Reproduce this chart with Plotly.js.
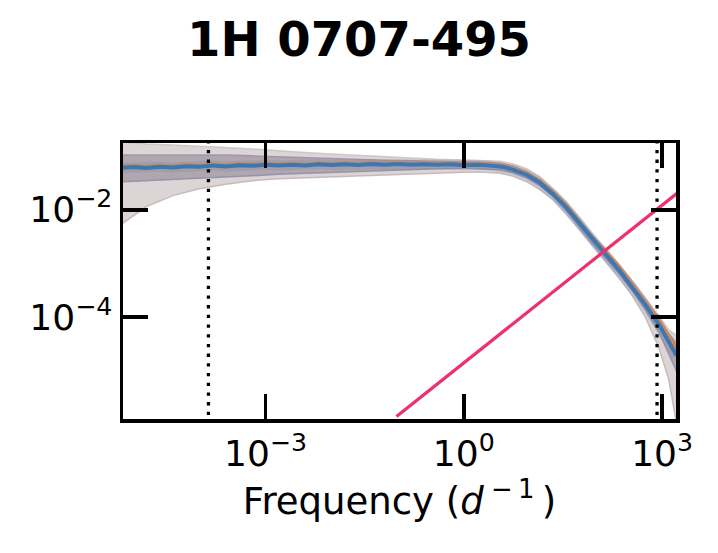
<!DOCTYPE html>
<html>
<head>
<meta charset="utf-8">
<script src="https://cdn.plot.ly/plotly-3.0.1.min.js"></script>
<style>html,body{margin:0;padding:0;background:#fff}#chart{width:718px;height:553px}</style>
</head>
<body>
<div id="chart"></div>
<script>
// log10 of frequency (d^-1) sample points for the bands
const logFreq = [-5.16,-4.8,-4.4,-4.0,-3.6,-3.2,-2.8,-2.4,-2.0,-1.6,-1.2,-0.8,-0.4,0,0.3,0.55,0.75,0.95,1.15,1.35,1.55,1.75,1.95,2.15,2.35,2.55,2.75,2.95,3.1,3.22];
// outer band (light), log10 power
const logOuterHi = [-0.735,-0.772,-0.791,-0.809,-0.837,-0.865,-0.902,-0.930,-0.957,-0.985,-1.013,-1.041,-1.059,-1.069,-1.078,-1.096,-1.143,-1.235,-1.383,-1.606,-1.846,-2.143,-2.457,-2.735,-3.013,-3.328,-3.643,-3.976,-4.235,-4.346];
const logOuterLo = [-2.254,-1.939,-1.735,-1.606,-1.522,-1.457,-1.420,-1.402,-1.383,-1.365,-1.346,-1.328,-1.309,-1.300,-1.300,-1.319,-1.374,-1.476,-1.624,-1.809,-2.068,-2.365,-2.680,-2.976,-3.272,-3.606,-4.013,-4.569,-5.161,-5.994];
// inner band (darker), log10 power
const logInnerHi = [-0.976,-0.976,-0.967,-0.967,-0.976,-0.994,-1.013,-1.031,-1.050,-1.069,-1.078,-1.087,-1.096,-1.106,-1.115,-1.133,-1.189,-1.291,-1.439,-1.643,-1.883,-2.189,-2.504,-2.781,-3.059,-3.374,-3.689,-4.022,-4.309,-4.494];
const logInnerLo = [-1.476,-1.457,-1.439,-1.411,-1.383,-1.365,-1.337,-1.319,-1.300,-1.281,-1.263,-1.244,-1.235,-1.226,-1.235,-1.254,-1.309,-1.402,-1.550,-1.754,-2.013,-2.319,-2.633,-2.911,-3.198,-3.513,-3.865,-4.272,-4.680,-5.013];
// log10 of frequency for the median lines
const lineLogFreq = [-5.16,-5.0,-4.8,-4.6,-4.4,-4.2,-4.0,-3.8,-3.6,-3.4,-3.2,-3.0,-2.8,-2.6,-2.4,-2.2,-2.0,-1.8,-1.6,-1.4,-1.2,-1.0,-0.8,-0.6,-0.4,-0.2,0.0,0.2,0.4,0.6,0.75,0.95,1.15,1.35,1.55,1.75,1.95,2.15,2.35,2.55,2.75,2.95,3.1,3.22];
// blue median, log10 power
const logBlue = [-1.217,-1.200,-1.218,-1.198,-1.210,-1.186,-1.198,-1.176,-1.190,-1.168,-1.180,-1.160,-1.174,-1.158,-1.172,-1.152,-1.166,-1.150,-1.165,-1.148,-1.160,-1.146,-1.162,-1.150,-1.160,-1.152,-1.167,-1.158,-1.176,-1.200,-1.256,-1.346,-1.493,-1.704,-1.954,-2.255,-2.561,-2.833,-3.122,-3.444,-3.778,-4.136,-4.452,-4.717];
// orange median, log10 power
const logOrange = [-1.190,-1.173,-1.191,-1.171,-1.183,-1.159,-1.171,-1.149,-1.163,-1.141,-1.153,-1.133,-1.147,-1.131,-1.145,-1.125,-1.139,-1.123,-1.138,-1.121,-1.133,-1.119,-1.135,-1.123,-1.133,-1.125,-1.140,-1.131,-1.149,-1.172,-1.226,-1.312,-1.455,-1.665,-1.912,-2.210,-2.512,-2.780,-3.065,-3.380,-3.705,-4.050,-4.360,-4.600];
// pink power-law line (end points)
const pinkFreq = [0.096, 1700];
const pinkPower = [1.4e-6, 2.05e-2];
// dotted frequency limits
const limitFreqs = [1.37e-4, 840];
// ticks
const xTickVals = [1e-3, 1, 1e3];
const xTickText = ['10<sup>−3</sup>', '10<sup>0</sup>', '10<sup>3</sup>'];
const yTickVals = [1e-2, 1e-4];
const yTickText = ['10<sup>−2</sup>', '10<sup>−4</sup>'];

const p10 = a => a.map(v => Math.pow(10, v));
const freq = p10(logFreq);
const lineFreq = p10(lineLogFreq);

const traces = [];
traces.push({x: freq, y: p10(logOuterLo), mode: 'lines', line: {color: 'rgba(190,175,176,0.8)', width: 1.5}, hoverinfo: 'skip'});
traces.push({x: freq, y: p10(logOuterHi), mode: 'lines', fill: 'tonexty', fillcolor: 'rgba(221,213,213,1)', line: {color: 'rgba(200,190,192,0.8)', width: 1.5}, hoverinfo: 'skip'});
traces.push({x: freq, y: p10(logInnerLo), mode: 'lines', line: {color: 'rgba(145,143,172,0.9)', width: 1.5}, hoverinfo: 'skip'});
traces.push({x: freq, y: p10(logInnerHi), mode: 'lines', fill: 'tonexty', fillcolor: 'rgba(176,166,174,1)', line: {color: 'rgba(155,146,168,0.9)', width: 1.5}, hoverinfo: 'skip'});
traces.push({x: lineFreq, y: p10(logOrange), mode: 'lines', line: {color: '#f0883a', width: 3.5}, hoverinfo: 'skip'});
traces.push({x: lineFreq, y: p10(logBlue), mode: 'lines', line: {color: 'rgba(90,130,180,0.22)', width: 10}, hoverinfo: 'skip'});
traces.push({x: lineFreq, y: p10(logBlue), mode: 'lines', line: {color: '#3d77b0', width: 4}, hoverinfo: 'skip'});
traces.push({x: pinkFreq, y: pinkPower, mode: 'lines', line: {color: '#ef2f6e', width: 3.2}, hoverinfo: 'skip'});
limitFreqs.forEach(f => traces.push({x: [f, f], y: [1e-8, 10], mode: 'lines', line: {color: '#000', width: 3.3, dash: '3.3px,6.4px'}, hoverinfo: 'skip'}));

const font = 'DejaVu Sans, sans-serif';
const layout = {
  width: 718, height: 553,
  margin: {l: 123, r: 42, t: 143, b: 134, pad: 0},
  paper_bgcolor: '#fff', plot_bgcolor: '#fff',
  showlegend: false,
  font: {family: font, color: '#000', size: 36},
  title: {text: '<b>1H 0707-495</b>', font: {family: font, size: 48, color: '#000'}, x: 0.5, xref: 'container', xanchor: 'center', y: 0.93, yref: 'container', yanchor: 'middle'},
  xaxis: {
    type: 'log', range: [-5.156, 3.211], showgrid: false, zeroline: false,
    showline: true, linecolor: '#000', linewidth: 3.5, mirror: 'allticks',
    ticks: 'inside', ticklen: 25, tickwidth: 3.5, tickcolor: '#000',
    tickvals: xTickVals, ticktext: xTickText, tickfont: {size: 36, family: font},
    title: {text: 'Frequency (<i>d</i>&#8201;<sup>−&#8201;1</sup>&#8201;)', font: {size: 37, family: font}, standoff: 16}
  },
  yaxis: {
    type: 'log', range: [-5.902, -0.754], showgrid: false, zeroline: false,
    showline: true, linecolor: '#000', linewidth: 3.5, mirror: 'allticks',
    ticks: 'inside', ticklen: 25, tickwidth: 3.5, tickcolor: '#000',
    tickvals: yTickVals, ticktext: yTickText, tickfont: {size: 36, family: font}
  }
};
Plotly.newPlot('chart', traces, layout, {staticPlot: true, displayModeBar: false});
</script>
</body>
</html>
